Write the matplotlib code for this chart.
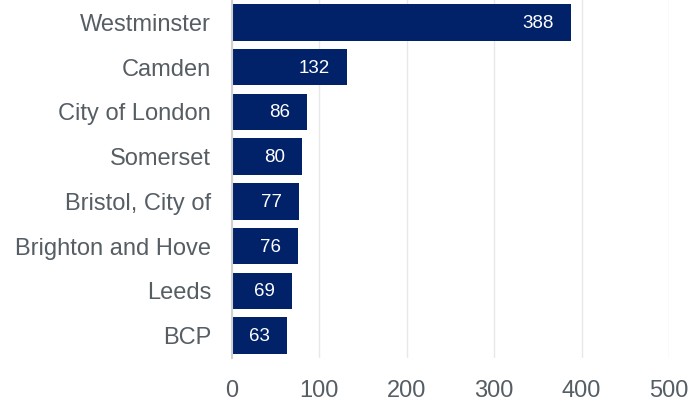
import matplotlib
matplotlib.use("Agg")
import matplotlib.pyplot as plt

categories = ["Westminster", "Camden", "City of London", "Somerset",
              "Bristol, City of", "Brighton and Hove", "Leeds", "BCP"]
values = [388, 132, 86, 80, 77, 76, 69, 63]
xticks = [0, 100, 200, 300, 400, 500]

plt.rcParams['font.family'] = ['Liberation Sans', 'DejaVu Sans']

fig = plt.figure(figsize=(6.97, 4.01), dpi=100)
ax = fig.add_axes([232/697, 1 - 358/401, 437/697, 358/401])

y = list(range(len(categories)))
bars = ax.barh(y, values, height=0.82, color="#012169", zorder=3)
ax.set_ylim(len(categories) - 0.5, -0.5)
ax.set_xlim(0, 500)
ax.set_xticks(xticks)
ax.set_xticklabels([str(t) for t in xticks])
ax.set_yticks(y)
ax.set_yticklabels(categories)

for yi, v in zip(y, values):
    ax.annotate(str(v), xy=(v, yi), xytext=(-17, -1), textcoords="offset pixels",
                ha="right", va="center", color="white", fontsize=13.5, zorder=4)

ax.grid(axis="x", color="#e8e8e8", linewidth=1, zorder=0)
for s in ["top", "right", "bottom"]:
    ax.spines[s].set_visible(False)
ax.spines["left"].set_color("#d0d0d0")
ax.spines["left"].set_linewidth(1.5)
ax.spines["left"].set_zorder(5)
ax.tick_params(axis="both", length=0, labelsize=17, colors="#565e64")
ax.tick_params(axis="y", pad=15)
ax.tick_params(axis="x", pad=16)

fig.savefig("out.png", dpi=100)
